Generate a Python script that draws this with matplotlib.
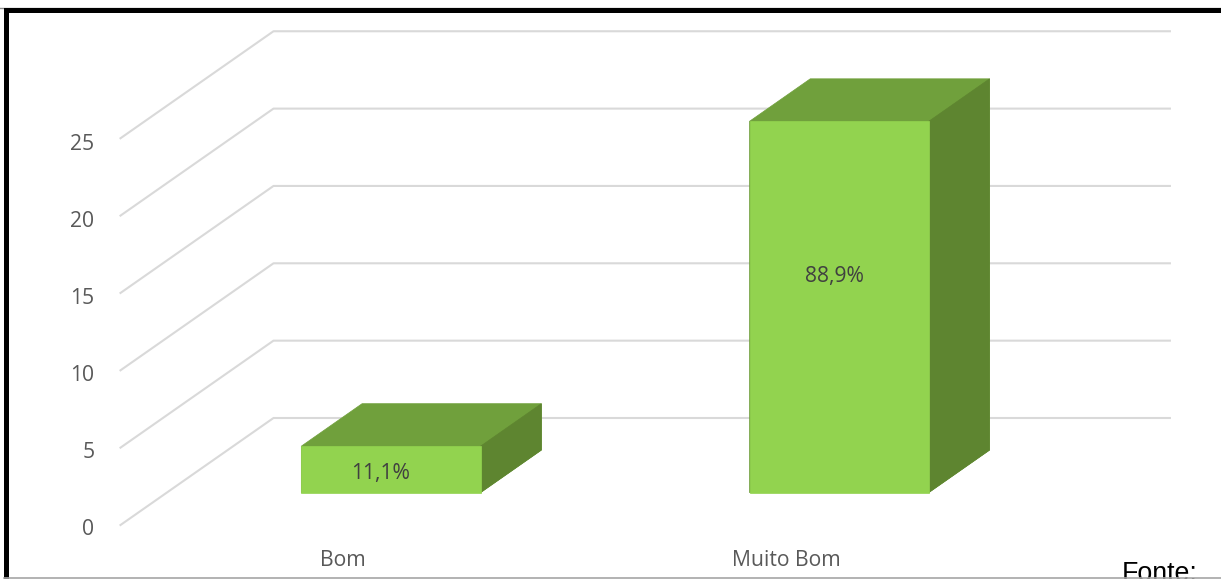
import matplotlib
matplotlib.use('Agg')
import matplotlib.pyplot as plt

categories = ['Bom', 'Muito Bom']
values = [3, 24]
bar_labels = ['11,1%', '88,9%']
y_ticks = [0, 5, 10, 15, 20, 25]

plt.rcParams['font.family'] = ['Open Sans', 'DejaVu Sans']

W = 1221
H = 579
fig = plt.figure(figsize=(W / 100, H / 100), dpi=100)
ax = fig.add_axes([0, 0, 1, 1])
ax.set_xlim(0, W)
ax.set_ylim(H, 0)
ax.axis('off')


# fake 3d: category, value and depth (0 front, 1 back wall) to pixels
def project(cat, val, depth=0.0):
    x = 120.5 + (cat + 0.5) * 448.2 + depth * 153
    y = 525 - val * 15.47 - depth * 107
    return x, y


def face(points, color):
    xs = [p[0] for p in points]
    ys = [p[1] for p in points]
    ax.fill(xs, ys, color=color, lw=0.5, zorder=3)


# gridlines
for t in y_ticks:
    p0 = project(-0.5, t, 0)
    p1 = project(-0.5, t, 1)
    p2 = project(1.5, t, 1)
    ax.plot([p0[0], p1[0], p2[0]], [p0[1], p1[1], p2[1]], color='#d9d9d9', lw=1.5, zorder=1)
    ax.text(p0[0] - 26, p0[1] + 4.5 + t * 0.08, str(t), ha='right', va='center', fontsize=15.2, color='#595959')

# bars
bw = 0.2
d0 = 0.303
d1 = 0.70
for i, v in enumerate(values):
    face([project(i - bw, 0, d0), project(i + bw, 0, d0), project(i + bw, 0, d1), project(i + bw, v, d1),
          project(i - bw, v, d1), project(i - bw, v, d0)], '#70a03c')
    face([project(i + bw, 0, d0), project(i + bw, 0, d1), project(i + bw, v, d1), project(i + bw, v, d0)], '#5e8530')
    face([project(i - bw, 0, d0), project(i + bw, 0, d0), project(i + bw, v, d0), project(i - bw, v, d0)], '#92d34f')
    cx, cy = project(i, v / 2, d0)
    # 88,9% label sits above the middle of the bar
    if i == 1:
        cy = project(i, v * 0.59, d0)[1]
    ax.text(cx - 10 + i * 5, cy + 3 + (1 - i) * 1, bar_labels[i], ha='center', va='center', fontsize=15.2, color='#404040', zorder=4)
    lx = project(i, 0, 0)[0]
    ax.text(lx - 2 - i * 4, 561, categories[i], ha='center', va='center', fontsize=15.2, color='#595959')

ax.text(1122, 581, 'Fonte:', ha='left', va='baseline', fontsize=19.3, color='black',
        family=['Liberation Sans', 'DejaVu Sans'], zorder=4)

# frame of the pasted picture
ax.plot([0, W], [7.5, 7.5], color='#8c8c8c', lw=1, zorder=5)
ax.fill([4, W, W, 9, 9, 4], [8, 8, 13, 13, H, H], color='black', lw=0, zorder=5)
ax.plot([4, W], [578, 578], color='#a6a6a6', lw=1.2, zorder=5)

fig.savefig('out.png', dpi=100)
